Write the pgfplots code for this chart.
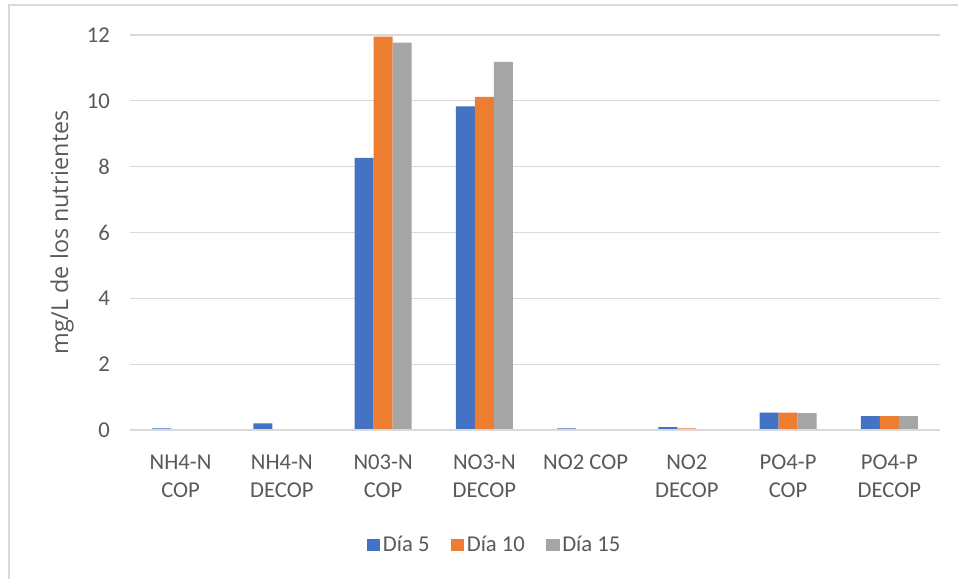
\documentclass[border=0pt]{standalone}
\usepackage{fontspec}
\setmainfont{Carlito}
\newfontfamily\labelfont{Open Sans}
\usepackage{pgfplots}
\pgfplotsset{compat=1.18}

\definecolor{c5}{HTML}{4472C4}
\definecolor{c10}{HTML}{ED7D31}
\definecolor{c15}{HTML}{A5A5A5}
\definecolor{txt}{HTML}{595959}
\definecolor{gridc}{HTML}{D9D9D9}

\begin{document}
\begin{tikzpicture}
  % overall canvas and outer frame (only left and top edges are visible)
  \useasboundingbox (-97.5pt,-111.75pt) rectangle (621pt,322.5pt);
  \draw[gridc, line width=0.8pt] (-90.75pt,-111.75pt) -- (-90.75pt,318.75pt) -- (621pt,318.75pt);
  \begin{axis}[
    at={(0pt,0pt)}, anchor=south west,
    scale only axis,
    width=607.5pt, height=296.25pt,
    ybar=0pt,
    bar width=14.25pt,
    xmin=-0.5, xmax=7.5,
    ymin=0, ymax=12,
    ytick={0,2,...,12},
    xtick=data,
    xticklabels={NH4-N\\COP, NH4-N\\DECOP, N03-N\\COP, NO3-N\\DECOP, NO2 COP, NO2\\DECOP, PO4-P\\COP, PO4-P\\DECOP},
    xticklabel style={align=center, text=txt, yshift=-15pt,
      font=\fontsize{17}{21}\selectfont},
    yticklabel style={text=txt, xshift=-11.5pt, font=\fontsize{17}{19}\selectfont},
    /pgf/number format/assume math mode=true,
    major tick length=0pt,
    axis line style={draw=none},
    ymajorgrids,
    grid style={draw=gridc, line width=0.8pt},
    ylabel={mg/L de los nutrientes},
    ylabel style={text=txt, at={(axis description cs:-0.084,0.5)}, anchor=center,
      font=\labelfont\fontsize{17.5}{20}\selectfont},
    legend style={at={(0.4506,-0.291)}, anchor=center, draw=none, legend columns=3,
      text=txt, font=\fontsize{17}{19}\selectfont,
      /tikz/every even column/.append style={column sep=14pt}},
    legend image code/.code={\fill[#1] (0pt,-4.5pt) rectangle (10pt,4.5pt);},
  ]
    \addplot[draw=none, fill=c5] coordinates {(0,0.05) (1,0.2) (2,8.27) (3,9.83) (4,0.05) (5,0.09) (6,0.53) (7,0.42)};
    \addplot[draw=none, fill=c10] coordinates {(0,0) (1,0) (2,11.95) (3,10.12) (4,0) (5,0.05) (6,0.53) (7,0.42)};
    \addplot[draw=none, fill=c15] coordinates {(0,0) (1,0) (2,11.77) (3,11.18) (4,0) (5,0) (6,0.51) (7,0.42)};
    \draw[gridc, line width=1.2pt] (axis cs:-0.5,0) -- (axis cs:7.5,0);
    \legend{Día 5, Día 10, Día 15}
  \end{axis}
\end{tikzpicture}
\end{document}
